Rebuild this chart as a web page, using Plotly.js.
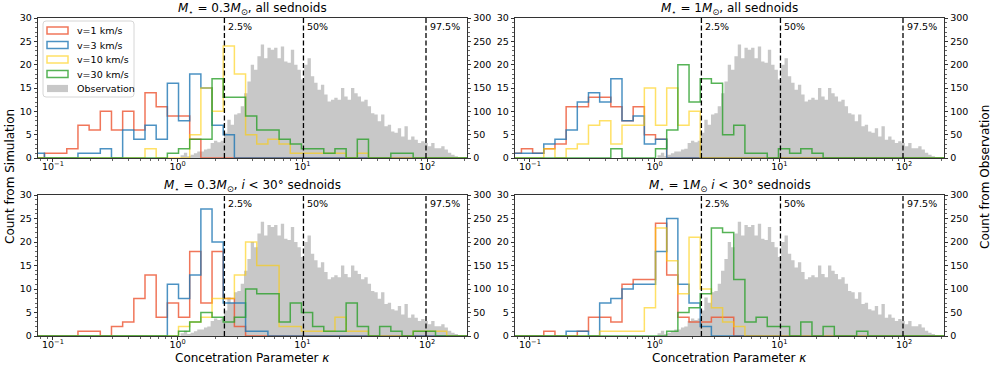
<!DOCTYPE html>
<html lang="en">
<head>
<meta charset="utf-8">
<title>Concentration parameter histograms</title>
<script src="https://cdn.plot.ly/plotly-3.0.1.min.js"></script>
<style>
  html, body { margin: 0; padding: 0; background: #fff; }
  #chart { width: 996px; height: 369px; }
</style>
</head>
<body>
<div id="chart"></div>
<script>
// log10 bin grids (same grid for every simulated histogram)
var simLogStart = -1.158, simLogStep = 0.0896, simBins = 39;
var obsLogStart = 0.023, obsLogStep = 0.0268;

var speeds = ['v=1 km/s', 'v=3 km/s', 'v=10 km/s', 'v=30 km/s'];
var colors = ['rgba(236,84,49,0.8)', 'rgba(31,119,180,0.8)', 'rgba(255,205,0,0.6)', 'rgba(44,160,44,0.8)'];
var obsName = 'Observation', obsColor = '#c8c8c8';

var panelTitles = [
  '<i>M</i><sub>\u22c6</sub> = 0.3<i>M</i><sub>\u2299</sub>, all sednoids',
  '<i>M</i><sub>\u22c6</sub> = 1<i>M</i><sub>\u2299</sub>, all sednoids',
  '<i>M</i><sub>\u22c6</sub> = 0.3<i>M</i><sub>\u2299</sub>, <i>i</i> < 30\u00b0 sednoids',
  '<i>M</i><sub>\u22c6</sub> = 1<i>M</i><sub>\u2299</sub> <i>i</i> < 30\u00b0 sednoids'
];

var percentLabels = ['2.5%', '50%', '97.5%'];
var percentValues = [2.37, 10.2, 98];

var xTickVals = [0.1, 1, 10, 100];
var xTickText = ['10<sup>\u22121</sup>', '10<sup>0</sup>', '10<sup>1</sup>', '10<sup>2</sup>'];

// observed distribution (same in every panel)
var obsCounts = [6, 11, 4, 7, 10, 14, 14, 18, 20, 32, 37, 34, 37, 54, 82, 71, 93, 96, 111, 139, 164, 200, 189, 218,
  243, 214, 236, 232, 236, 214, 239, 207, 204, 232, 200, 189, 168, 200, 214, 175, 161, 146, 157, 136,
  121, 125, 129, 125, 150, 132, 125, 150, 139, 132, 121, 125, 111, 96, 93, 79, 93, 68, 71, 57,
  54, 64, 46, 68, 39, 46, 39, 32, 36, 32, 25, 32, 21, 21, 25, 18, 11, 7, 4];

// M=0.3, all sednoids
var tlV1  = [0,1,1,2,7,6,10,6,10,6, 14,11,9,9,4,0,0,0,0,0, 0,0,0,0,0,0,0,0,0,0, 0,0,0,0,0,0,0,0,0];
var tlV3  = [1,0,0,0,1,1,2,0,6,4, 7,4,16,8,18,15,7,5,0,0, 0,0,0,0,0,0,0,0,0,0, 0,0,0,0,0,0,0,0,0];
var tlV10 = [0,0,0,0,0,0,0,0,0,0, 2,0,0,0,5,15,10,24,18,5, 3,4,3,1,1,1,1,1,0,1, 0,0,0,0,0,0,0,0,0];
var tlV30 = [0,0,0,0,0,0,0,0,0,0, 0,0,1,2,4,4,17,13,13,9, 6,6,4,3,2,2,1,2,0,4, 0,0,1,1,0,0,0,0,0];
// M=1, all sednoids
var trV1  = [1,2,1,2,3,11,11,13,13,11, 8,11,5,4,0,0,0,0,0,0, 0,0,0,0,0,0,0,0,0,0, 0,0,0,0,0,0,0,0,0];
var trV3  = [1,1,1,3,4,6,12,14,12,17, 8,9,3,4,0,0,0,0,0,0, 0,0,0,0,0,0,0,0,0,0, 0,0,0,0,0,0,0,0,0];
var trV10 = [0,0,0,2,0,2,3,7,8,3, 7,7,15,7,15,7,10,0,0,0, 0,0,0,0,0,0,0,0,0,0, 0,0,0,0,0,0,0,0,0];
var trV30 = [0,0,0,0,0,0,0,0,0,2, 0,0,0,2,6,20,12,17,16,5, 7,1,1,0,2,1,2,1,0,0, 0,0,0,0,0,0,0,0,0];
// M=0.3, i<30
var blV1  = [0,0,0,0,1,1,0,2,3,8, 13,4,7,4,18,7,18,8,2,0, 0,0,0,0,0,0,0,0,0,0, 0,0,0,0,0,0,0,0,0];
var blV3  = [0,0,0,0,0,0,0,0,0,0, 0,0,11,8,13,27,20,7,7,1, 1,0,0,0,0,0,0,0,0,0, 0,0,0,0,0,0,0,0,0];
var blV10 = [0,0,0,0,0,0,0,0,0,0, 0,0,0,2,3,4,8,8,13,20, 15,15,2,2,1,1,1,4,1,1, 0,0,0,0,1,1,1,0,0];
var blV30 = [0,0,0,0,0,0,0,0,0,0, 0,0,0,1,3,5,4,3,4,10, 9,9,3,7,5,2,1,1,7,2, 0,2,1,0,1,1,0,0,0];
// M=1, i<30
var brV1  = [0,0,0,1,0,0,1,4,4,3, 11,12,12,24,13,4,3,3,4,4, 0,0,0,0,0,0,0,0,0,0, 0,0,0,0,0,0,0,0,0];
var brV3  = [0,0,0,0,0,1,1,0,7,8, 10,11,11,18,25,11,7,2,0,0, 0,0,0,0,0,0,0,0,0,0, 0,0,0,0,0,0,0,0,0];
var brV10 = [0,0,0,0,0,0,0,0,1,1, 1,1,6,23,16,9,21,10,6,3, 2,0,0,0,0,0,0,0,0,0, 0,0,0,0,0,0,0,0,0];
var brV30 = [0,0,0,0,0,0,0,0,0,0, 0,0,0,0,1,5,6,9,23,22, 12,3,4,2,2,0,3,0,2,0, 0,1,0,0,0,0,0,0,0];

var panelCounts = [
  [tlV1, tlV3, tlV10, tlV30],
  [trV1, trV3, trV10, trV30],
  [blV1, blV3, blV10, blV30],
  [brV1, brV3, brV10, brV30]
];

function logEdges(start, step, n) {
  var e = [];
  for (var i = 0; i <= n; i++) e.push(Math.pow(10, start + i * step));
  return e;
}
var simEdges = logEdges(simLogStart, simLogStep, simBins);
var obsEdges = logEdges(obsLogStart, obsLogStep, obsCounts.length);

var minorX = [];
[-2, -1, 0, 1, 2].forEach(function (d) {
  for (var m = 2; m <= 9; m++) minorX.push(m * Math.pow(10, d));
});

var W = 996, H = 369;
function px(x) { return x / W; }
function py(y) { return 1 - y / H; }

var xDomains = [[px(38), px(467)], [px(515), px(944)], [px(38), px(467)], [px(515), px(944)]];
var yDomains = [[py(158), py(18)], [py(158), py(18)], [py(336), py(195)], [py(336), py(195)]];

var FAM = 'DejaVu Sans, sans-serif';
var small = {family: FAM, size: 9.5, color: 'black'};
var big = {family: FAM, size: 12, color: 'black'};
var axisBase = {
  ticks: 'outside', ticklen: 3.5, tickwidth: 0.8, tickcolor: 'black',
  showline: true, linecolor: 'black', linewidth: 0.8,
  showgrid: false, zeroline: false, tickfont: small, fixedrange: true
};

var traces = [];
var layout = {
  width: W, height: H,
  margin: {l: 0, r: 0, t: 0, b: 0},
  paper_bgcolor: 'white', plot_bgcolor: 'white',
  font: small,
  showlegend: false,
  shapes: [], annotations: []
};

for (var p = 0; p < 4; p++) {
  var xid = p === 0 ? 'x' : 'x' + (p + 1);
  var obsId = p === 0 ? 'y' : 'y' + (2 * p + 1);
  var simId = 'y' + (2 * p + 2);
  var xKey = p === 0 ? 'xaxis' : 'xaxis' + (p + 1);
  var obsKey = p === 0 ? 'yaxis' : 'yaxis' + (2 * p + 1);
  var simKey = 'yaxis' + (2 * p + 2);

  // observation histogram on the right-hand axis (drawn underneath)
  traces.push({
    x: obsEdges, y: obsCounts.concat([obsCounts[obsCounts.length - 1]]),
    xaxis: xid, yaxis: obsId, type: 'scatter', mode: 'lines',
    line: {shape: 'hv', width: 0}, fill: 'tozeroy', fillcolor: obsColor,
    name: obsName, hoverinfo: 'skip'
  });
  // simulated step histograms on the left-hand axis
  panelCounts[p].forEach(function (counts, i) {
    traces.push({
      x: simEdges, y: counts.concat([counts[counts.length - 1]]),
      xaxis: xid, yaxis: simId, type: 'scatter', mode: 'lines',
      line: {shape: 'hv', width: 1.5, color: colors[i]},
      name: speeds[i], hoverinfo: 'skip'
    });
  });

  layout[xKey] = Object.assign({}, axisBase, {
    domain: xDomains[p], anchor: obsId, type: 'log', range: [-1.12, 2.32],
    tickmode: 'array', tickvals: xTickVals, ticktext: xTickText, mirror: true,
    ticklabelstandoff: -4,
    minor: {tickmode: 'array', tickvals: minorX, ticks: 'outside', ticklen: 2, tickwidth: 0.6, tickcolor: 'black'}
  });
  layout[obsKey] = Object.assign({}, axisBase, {
    domain: yDomains[p], anchor: xid, side: 'right', range: [0, 300], dtick: 50, tick0: 0,
    minor: {dtick: 10, ticks: 'outside', ticklen: 2, tickwidth: 0.6, tickcolor: 'black'}
  });
  layout[simKey] = Object.assign({}, axisBase, {
    anchor: xid, overlaying: obsId, side: 'left', range: [0, 30], dtick: 5, tick0: 0,
    minor: {dtick: 1, ticks: 'outside', ticklen: 2, tickwidth: 0.6, tickcolor: 'black'}
  });

  percentValues.forEach(function (v, j) {
    layout.shapes.push({
      type: 'line', xref: xid, yref: obsId + ' domain', x0: v, x1: v, y0: 0, y1: 1,
      line: {color: 'black', width: 1.3, dash: '5px,2.5px'}
    });
    layout.annotations.push({
      xref: xid, yref: obsId + ' domain', x: Math.log10(v), y: 1, xanchor: 'left', yanchor: 'top',
      xshift: 2, yshift: -1, text: percentLabels[j], showarrow: false, font: small
    });
  });

  layout.annotations.push({
    xref: 'paper', yref: 'paper', x: (xDomains[p][0] + xDomains[p][1]) / 2,
    y: yDomains[p][1] + 9 / H, xanchor: 'center', yanchor: 'middle',
    text: panelTitles[p], showarrow: false, font: big
  });
}

// shared axis titles
layout.annotations.push(
  {xref: 'paper', yref: 'paper', x: px(10), y: py(177), xanchor: 'center', yanchor: 'middle',
   textangle: -90, showarrow: false, text: 'Count from Simulation', font: big},
  {xref: 'paper', yref: 'paper', x: px(985), y: py(177), xanchor: 'center', yanchor: 'middle',
   textangle: -90, showarrow: false, text: 'Count from Observation', font: big},
  {xref: 'paper', yref: 'paper', x: px(252.5), y: py(358), xanchor: 'center', yanchor: 'middle',
   showarrow: false, text: 'Concetration Parameter <i>\u03ba</i>', font: big},
  {xref: 'paper', yref: 'paper', x: px(729.5), y: py(358), xanchor: 'center', yanchor: 'middle',
   showarrow: false, text: 'Concetration Parameter <i>\u03ba</i>', font: big}
);

// legend box in the first panel (matplotlib style: rounded frame, outlined patches)
function roundedBox(l, t, r, b, rad) {
  var rx = rad / W, ry = rad / H;
  var L = px(l), R = px(r), T = py(t), B = py(b);
  return 'M' + (L + rx) + ',' + T + ' L' + (R - rx) + ',' + T + ' Q' + R + ',' + T + ' ' + R + ',' + (T - ry) +
    ' L' + R + ',' + (B + ry) + ' Q' + R + ',' + B + ' ' + (R - rx) + ',' + B +
    ' L' + (L + rx) + ',' + B + ' Q' + L + ',' + B + ' ' + L + ',' + (B + ry) +
    ' L' + L + ',' + (T - ry) + ' Q' + L + ',' + T + ' ' + (L + rx) + ',' + T + ' Z';
}
layout.shapes.push({
  type: 'path', xref: 'paper', yref: 'paper', path: roundedBox(43, 21, 134, 97, 3),
  line: {color: '#d6d6d6', width: 1}, fillcolor: 'rgba(255,255,255,0.8)'
});
var legendNames = speeds.concat([obsName]);
legendNames.forEach(function (name, i) {
  var cy = 30.5 + i * 14.5;
  var isObs = i === speeds.length;
  layout.shapes.push({
    type: 'rect', xref: 'paper', yref: 'paper', x0: px(47), x1: px(68), y0: py(cy + 3.6), y1: py(cy - 3.6),
    line: isObs ? {width: 0} : {color: colors[i], width: 1.5},
    fillcolor: isObs ? obsColor : 'rgba(0,0,0,0)'
  });
  layout.annotations.push({
    xref: 'paper', yref: 'paper', x: px(75), y: py(cy), xanchor: 'left', yanchor: 'middle',
    showarrow: false, text: name, font: small
  });
});

Plotly.newPlot('chart', traces, layout, {displayModeBar: false, staticPlot: true});
</script>
</body>
</html>
